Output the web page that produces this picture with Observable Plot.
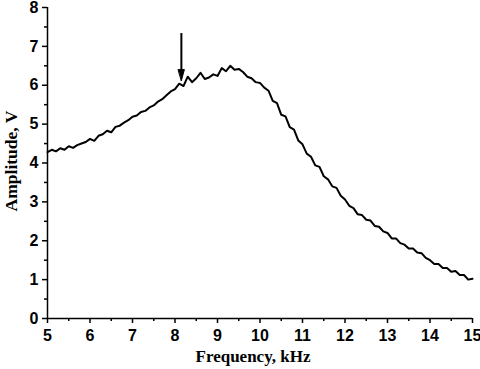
<!DOCTYPE html>
<html>
<head>
<meta charset="utf-8">
<script src="https://cdn.jsdelivr.net/npm/d3@7"></script>
<script src="https://cdn.jsdelivr.net/npm/@observablehq/plot@0.6"></script>
<style>
  html, body { margin: 0; padding: 0; background: #fff; }
  svg { display: block; overflow: visible; }
</style>
</head>
<body>
<div id="chart"></div>
<script>
const frequency = [
  5.0, 5.1, 5.2, 5.3, 5.4, 5.5, 5.6, 5.7, 5.8, 5.9,
  6.0, 6.1, 6.2, 6.3, 6.4, 6.5, 6.6, 6.7, 6.8, 6.9,
  7.0, 7.1, 7.2, 7.3, 7.4, 7.5, 7.6, 7.7, 7.8, 7.9,
  8.0, 8.1, 8.2, 8.3, 8.4, 8.5, 8.6, 8.7, 8.8, 8.9,
  9.0, 9.1, 9.2, 9.3, 9.4, 9.5, 9.6, 9.7, 9.8, 9.9,
  10.0, 10.1, 10.2, 10.3, 10.4, 10.5, 10.6, 10.7, 10.8, 10.9,
  11.0, 11.1, 11.2, 11.3, 11.4, 11.5, 11.6, 11.7, 11.8, 11.9,
  12.0, 12.1, 12.2, 12.3, 12.4, 12.5, 12.6, 12.7, 12.8, 12.9,
  13.0, 13.1, 13.2, 13.3, 13.4, 13.5, 13.6, 13.7, 13.8, 13.9,
  14.0, 14.1, 14.2, 14.3, 14.4, 14.5, 14.6, 14.7, 14.8, 14.9, 15.0
];
const amplitude = [
  4.28, 4.34, 4.30, 4.38, 4.34, 4.43, 4.39, 4.46, 4.50, 4.54,
  4.62, 4.57, 4.70, 4.74, 4.83, 4.79, 4.93, 4.96, 5.04, 5.10,
  5.19, 5.22, 5.31, 5.34, 5.43, 5.48, 5.58, 5.64, 5.74, 5.84,
  5.90, 6.04, 5.98, 6.22, 6.08, 6.18, 6.32, 6.16, 6.20, 6.28,
  6.24, 6.44, 6.36, 6.50, 6.40, 6.42, 6.34, 6.22, 6.18, 6.08,
  6.06, 5.94, 5.86, 5.60, 5.54, 5.24, 5.20, 4.92, 4.86, 4.58,
  4.48, 4.24, 4.16, 3.94, 3.90, 3.66, 3.58, 3.40, 3.36, 3.16,
  3.06, 2.90, 2.84, 2.68, 2.66, 2.54, 2.52, 2.38, 2.36, 2.24,
  2.20, 2.06, 2.06, 1.94, 1.90, 1.80, 1.80, 1.70, 1.68, 1.56,
  1.50, 1.40, 1.40, 1.30, 1.30, 1.20, 1.22, 1.12, 1.12, 1.00, 1.02
];
const xTicks = [5, 6, 7, 8, 9, 10, 11, 12, 13, 14, 15];
const xMinor = [5.5, 6.5, 7.5, 8.5, 9.5, 10.5, 11.5, 12.5, 13.5, 14.5];
const yTicks = [0, 1, 2, 3, 4, 5, 6, 7, 8];
const yMinor = [0.5, 1.5, 2.5, 3.5, 4.5, 5.5, 6.5, 7.5];
const marker = [{x: 8.15, top: 7.33, tip: 6.12}];
const xLabel = "Frequency, kHz";
const yLabel = "Amplitude, V";

const data = frequency.map((f, i) => ({f, a: amplitude[i]}));

const W = 480, H = 369;
const mL = 47, mR = 8, mT = 7, mB = 51;

const headShape = {
  draw(context, l, r) {
    context.moveTo(0, -l);
    context.lineTo(-3, 0);
    context.lineTo(3, 0);
    context.closePath();
  }
};

function baseMarks(head) {
  return [
    Plot.axisX({ticks: xTicks, tickSize: 5, tickPadding: 6, tickFormat: d => String(d), label: null, strokeWidth: 1.5, fontSize: 16, fontWeight: "bold"}),
    Plot.axisX({ticks: xMinor, tickSize: 3, tickFormat: () => "", label: null, strokeWidth: 1.5}),
    Plot.axisY({ticks: yTicks, tickSize: 5, tickPadding: 4, tickFormat: d => String(d), label: null, strokeWidth: 1.5, fontSize: 16, fontWeight: "bold"}),
    Plot.axisY({ticks: yMinor, tickSize: 3, tickFormat: () => "", label: null, strokeWidth: 1.5}),
    Plot.ruleY([0], {stroke: "#000", strokeWidth: 1.5}),
    Plot.ruleX([5], {stroke: "#000", strokeWidth: 1.5}),
    Plot.line(data, {x: "f", y: "a", stroke: "#000", strokeWidth: 2, strokeLinejoin: "round"}),
    ...head
  ];
}

function makePlot(head) {
  return Plot.plot({
    width: W,
    height: H,
    marginLeft: mL,
    marginRight: mR,
    marginTop: mT,
    marginBottom: mB,
    style: {fontFamily: "Liberation Sans, Arial, sans-serif", fontSize: "16px", fontWeight: "bold", color: "#000", background: "#fff", overflow: "visible"},
    x: {domain: [5, 15]},
    y: {domain: [0, 8]},
    marks: baseMarks(head)
  });
}

let plot;
try {
  plot = makePlot([
    Plot.ruleX(marker, {x: "x", y1: "top", y2: "tip", stroke: "#000", strokeWidth: 2, insetBottom: 6}),
    Plot.vector(marker, {x: "x", y: "tip", length: 11, rotate: 180, anchor: "end", shape: headShape, fill: "#000", stroke: "#000", strokeWidth: 1})
  ]);
} catch (e) {
  plot = makePlot([
    Plot.arrow(marker, {x1: "x", x2: "x", y1: "top", y2: "tip", stroke: "#000", strokeWidth: 2, headLength: 11, headAngle: 36, bend: false})
  ]);
}

const svg = d3.select(plot);
svg.append("text")
  .attr("x", 253)
  .attr("y", 362)
  .attr("text-anchor", "middle")
  .attr("font-family", "Liberation Serif, Times New Roman, serif")
  .attr("font-weight", "bold")
  .attr("font-size", 17)
  .attr("fill", "#000")
  .text(xLabel);
svg.append("text")
  .attr("transform", `translate(17, ${161}) rotate(-90)`)
  .attr("text-anchor", "middle")
  .attr("font-family", "Liberation Serif, Times New Roman, serif")
  .attr("font-weight", "bold")
  .attr("font-size", 17.5)
  .attr("fill", "#000")
  .text(yLabel);

document.getElementById("chart").appendChild(plot);
</script>
</body>
</html>
